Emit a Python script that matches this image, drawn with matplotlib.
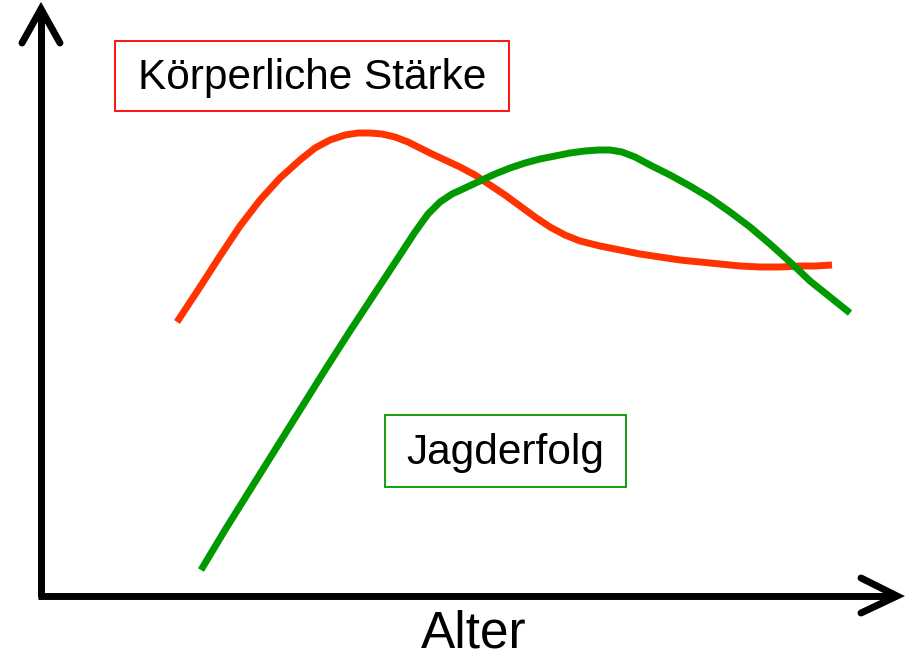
import matplotlib
matplotlib.use("Agg")
import matplotlib.pyplot as plt
from matplotlib.patches import Rectangle

plt.rcParams['font.family'] = ['Liberation Sans', 'DejaVu Sans']

# Curves (pixel space, y downward)
red_x = [177, 200, 220, 240, 260, 280, 300, 315, 330, 345, 358, 370, 382, 395, 408, 420, 432, 445, 460, 475,
         490, 505, 520, 535, 550, 565, 580, 600, 620, 640, 660, 680, 700, 720, 740, 760, 780, 800, 815, 832]
red_y = [322, 287, 256, 226, 200, 178, 160, 148, 140, 135, 133, 133, 134, 137, 142, 148, 154, 160, 167, 175,
         185, 195, 206, 217, 227, 235, 241, 246, 250, 254, 257, 260, 262, 264, 266, 267, 267, 266, 266, 265]

green_x = [201, 225, 250, 275, 300, 325, 350, 375, 400, 415, 428, 440, 452, 465, 480, 495, 510, 525, 540,
           555, 570, 585, 598, 610, 622, 635, 650, 670, 690, 710, 730, 750, 770, 790, 810, 830, 850]
green_y = [570, 530, 490, 450, 410, 370, 331, 293, 255, 232, 214, 202, 194, 188, 181, 174, 168, 163, 159,
           156, 153, 151, 150, 150, 152, 157, 165, 175, 186, 198, 212, 227, 244, 262, 281, 297, 313]

label_red = "Körperliche Stärke"
label_green = "Jagderfolg"
label_x = "Alter"

fig = plt.figure(figsize=(9.05, 6.59), dpi=100)
ax = fig.add_axes([0, 0, 1, 1])
ax.set_xlim(0, 905)
ax.set_ylim(659, 0)
ax.axis('off')

lw = 5
# axes
ax.plot([41, 41], [597, 10], color='black', lw=lw, solid_capstyle='butt')
ax.plot([38, 896], [596, 596], color='black', lw=lw, solid_capstyle='butt')
ax.plot([22, 41, 60], [43, 9, 43], color='black', lw=lw, solid_capstyle='round', solid_joinstyle='miter')
ax.plot([861, 897, 861], [578, 596, 613], color='black', lw=lw, solid_capstyle='round', solid_joinstyle='miter')

ax.plot(red_x, red_y, color='#FF3300', lw=lw, solid_capstyle='butt', solid_joinstyle='round')
ax.plot(green_x, green_y, color='#009900', lw=lw, solid_capstyle='butt', solid_joinstyle='round')

ax.add_patch(Rectangle((115, 41), 394, 70, fill=False, edgecolor='#FF0000', lw=1.3))
ax.text(312, 78, label_red, ha='center', va='center', fontsize=30.5, color='black')

ax.add_patch(Rectangle((385, 415), 241, 72, fill=False, edgecolor='#009900', lw=1.3))
ax.text(505, 453, label_green, ha='center', va='center', fontsize=30.5, color='black')

ax.text(474, 648, label_x, ha='center', va='baseline', fontsize=37, color='black')

fig.savefig('out.png', dpi=100)
